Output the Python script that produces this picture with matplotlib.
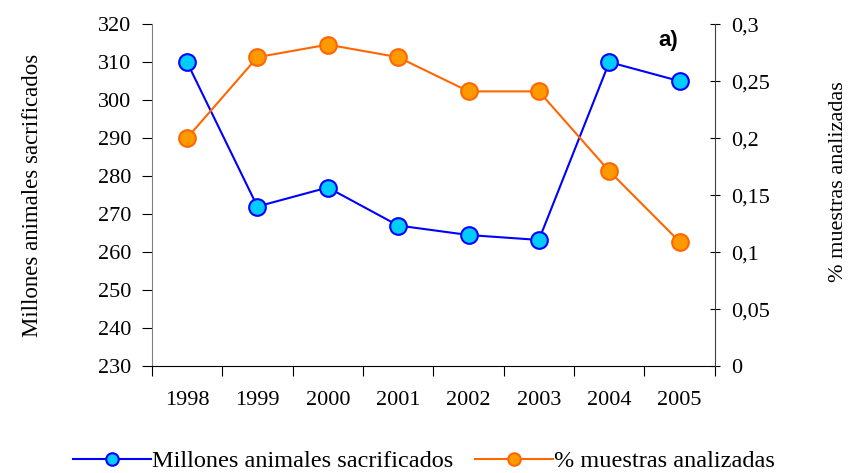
import numpy as np
import matplotlib.pyplot as plt

years = ['1998', '1999', '2000', '2001', '2002', '2003', '2004', '2005']
animales = [310, 272, 277, 267, 264.5, 263.2, 310, 305]
muestras = [0.20, 0.271, 0.282, 0.271, 0.241, 0.241, 0.171, 0.109]

plt.rcParams['font.family'] = ['Liberation Serif', 'DejaVu Serif']

fig = plt.figure(figsize=(8.48, 4.73), dpi=100)
ax = fig.add_axes([0.179, 0.226, 0.664, 0.723])
ax2 = ax.twinx()

x = np.arange(len(years))
l1, = ax.plot(x, animales, color='#0000FF', lw=1.5, marker='o', ms=12,
              mfc='#00CCFF', mec='#0000FF', mew=1.5, zorder=3)
l2, = ax2.plot(x, muestras, color='#FF6600', lw=1.5, marker='o', ms=12,
               mfc='#FF9900', mec='#FF6600', mew=1.5, zorder=3)

ax.set_xlim(-0.5, len(years) - 0.5)
ax.set_ylim(230, 320)
ax.set_yticks(np.arange(230, 321, 10))
ax2.set_ylim(0, 0.3)
ax2.set_yticks([0, 0.05, 0.1, 0.15, 0.2, 0.25, 0.3])
ax2.set_yticklabels(['0', '0,05', '0,1', '0,15', '0,2', '0,25', '0,3'])

# year labels sit between the tick marks
ax.set_xticks(np.arange(-0.5, len(years), 1))
ax.set_xticklabels([])
ax.set_xticks(x, minor=True)
ax.set_xticklabels(years, minor=True)
ax.tick_params(axis='x', which='major', length=7, direction='out')
ax.tick_params(axis='x', which='minor', length=0, labelsize=16, pad=18)
ax.tick_params(axis='y', length=7, direction='out', labelsize=16, pad=8)
ax2.tick_params(axis='y', length=7, direction='inout', labelsize=16, pad=8)

for a in (ax, ax2):
    a.spines['top'].set_visible(False)
ax.spines['right'].set_visible(False)
ax.spines['left'].set_color('#808080')
ax2.spines['left'].set_visible(False)
ax2.spines['bottom'].set_visible(False)
ax2.spines['right'].set_color('#404040')

ax.set_ylabel('Millones animales sacrificados', fontsize=16.5, labelpad=39)
ax2.set_ylabel('% muestras analizadas', fontsize=16, labelpad=43)
ax2.yaxis.label.set_y(0.54)

ax.text(0.917, 0.953, 'a)', transform=ax.transAxes, fontsize=16,
        fontweight='bold', family='Liberation Sans', ha='center', va='center')

fig.legend([l1, l2], ['Millones animales sacrificados', '% muestras analizadas'],
           loc='center', bbox_to_anchor=(0.5, 0.025), ncol=2, frameon=False,
           fontsize=17.5, handlelength=3.2, handletextpad=0.05, columnspacing=0.9,
           borderaxespad=0, markerscale=0.75)

fig.savefig('out.png', dpi=100)
